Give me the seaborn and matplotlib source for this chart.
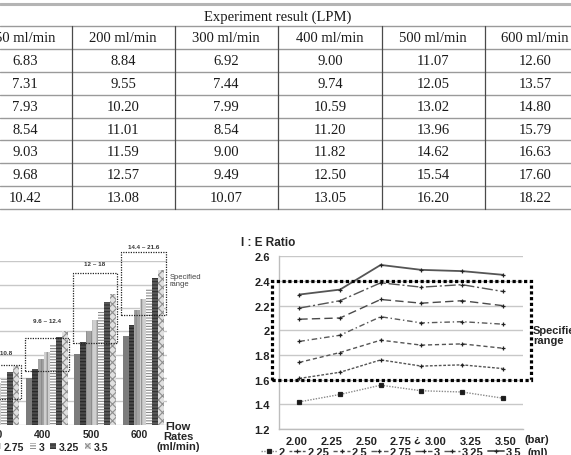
import numpy as np
import pandas as pd
import matplotlib.pyplot as plt
import seaborn as sns
from matplotlib.patches import Rectangle
from matplotlib.transforms import ScaledTranslation

sns.set_style('white')
plt.rcParams['font.family'] = ['Liberation Sans', 'DejaVu Sans']
plt.rcParams['hatch.linewidth'] = 0.8

# ================== data ==================
table_title = 'Experiment result (LPM)'
table_cols = ['50 ml/min', '200 ml/min', '300 ml/min', '400 ml/min', '500 ml/min', '600 ml/min']
col_50 = [6.83, 7.31, 7.93, 8.54, 9.03, 9.68, 10.42]
col_200 = [8.84, 9.55, 10.20, 11.01, 11.59, 12.57, 13.08]
col_300 = [6.92, 7.44, 7.99, 8.54, 9.00, 9.49, 10.07]
col_400 = [9.00, 9.74, 10.59, 11.20, 11.82, 12.50, 13.05]
col_500 = [11.07, 12.05, 13.02, 13.96, 14.62, 15.54, 16.20]
col_600 = [12.60, 13.57, 14.80, 15.79, 16.63, 17.60, 18.22]

volumes = ['2', '2.25', '2.5', '2.75', '3', '3.25', '3.5']  # ml
bar_flows = ['300', '400', '500', '600']
bar_values = [col_300, col_400, col_500, col_600]
spec_lo = [7.2, 9.6, 12.0, 14.4]
spec_hi = [10.1, 12.4, 18.0, 19.8]
spec_labels = ['7.2 ~ 10.8', '9.6 ~ 12.4', '12 ~ 18', '14.4 ~ 21.6']
spec_label_y = [11.2, 13.9, 18.8, 20.3]

pressure_labels = ['2.00', '2.25', '2.50', '2.75', '3.00', '3.25', '3.50']
ie_2 = [1.42, 1.48, 1.555, 1.51, 1.50, 1.45]
ie_225 = [1.61, 1.66, 1.76, 1.71, 1.72, 1.69]
ie_25 = [1.74, 1.82, 1.92, 1.88, 1.89, 1.855]
ie_275 = [1.91, 1.96, 2.11, 2.06, 2.07, 2.05]
ie_3 = [2.09, 2.10, 2.25, 2.22, 2.24, 2.20]
ie_325 = [2.18, 2.24, 2.385, 2.35, 2.37, 2.315]
ie_35 = [2.29, 2.33, 2.53, 2.49, 2.48, 2.45]
ie_series = [ie_2, ie_225, ie_25, ie_275, ie_3, ie_325, ie_35]

W, H = 571, 456
fig = plt.figure(figsize=(W / 100, H / 100), dpi=100)


def fx(x):
    return x / W


def fy(y):
    return 1 - y / H


# ================== table ==================
tab = fig.add_axes([0, 0, 1, 1], zorder=0)
tab.set_xlim(0, W)
tab.set_ylim(H, 0)
tab.axis('off')

col_x = [25, 123, 226, 330, 433, 535]
col_sep = [72, 175, 278, 382, 485]
row_top, row_h = 50, 22.86
serif = ['Liberation Serif', 'DejaVu Serif']

tab.axhline(5, color='#b4b4b4', lw=2.2)
tab.axhline(27, color='#9a9a9a', lw=1.0)
for k in range(8):
    tab.axhline(row_top + k * row_h, color='#9a9a9a', lw=1.0)
for xs in col_sep:
    tab.plot([xs, xs], [27, row_top + 7 * row_h], color='#4a4a4a', lw=0.9)

tab.text(278, 17, table_title, ha='center', va='center', fontsize=10.5,
         family=serif, color='#1a1a1a')
columns = [col_50, col_200, col_300, col_400, col_500, col_600]
for c, (name, vals) in enumerate(zip(table_cols, columns)):
    tab.text(col_x[c], 39, name, ha='center', va='center', fontsize=10.5,
             family=serif, color='#1a1a1a')
    for r, v in enumerate(vals):
        tab.text(col_x[c], row_top + (r + 0.5) * row_h, f'{v:.2f}', ha='center',
                 va='center', fontsize=10.5, family=serif, color='#1a1a1a')

# ================== bar chart (left, cropped) ==================
axb = fig.add_axes([fx(-25.7), fy(425.7), (167.5 + 25.7) / W, (425.7 - 262.3) / H])
bar_df = pd.DataFrame({
    'flow': np.repeat(bar_flows, len(volumes)),
    'vol': volumes * len(bar_flows),
    'lpm': np.concatenate(bar_values),
})
sns.barplot(data=bar_df, x='flow', y='lpm', hue='vol', order=bar_flows,
            hue_order=volumes, width=0.86, saturation=1, legend=False, ax=axb)

bar_face = ['#7c7c7c', '#4a4a4a', '#a4a4a4', '#cfcfcf', '#ffffff', '#5a5a5a', '#e0e0e0']
bar_hatch = ['', '-----', '|||', '|||', '------', '-----', 'xxxx']
bar_edge = ['#6e6e6e', '#262626', '#8a8a8a', '#8c8c8c', '#8a8a8a', '#303030', '#8e8e8e']
for cont, fc, ht, ec in zip(axb.containers, bar_face, bar_hatch, bar_edge):
    for p in cont.patches:
        p.set_facecolor(fc)
        p.set_hatch(ht)
        p.set_edgecolor(ec)
        p.set_linewidth(0)

axb.set_ylim(5, 19)
axb.set_yticks(range(5, 20, 2))
axb.yaxis.grid(True, color='#c8c8c8', lw=1.0)
axb.set_axisbelow(True)
sns.despine(ax=axb, left=True, bottom=True)
axb.set_xlabel('')
axb.set_ylabel('')
axb.tick_params(axis='y', left=False, labelleft=False)
axb.tick_params(axis='x', length=0, pad=3, labelsize=7.5)
for lbl in axb.get_xticklabels():
    lbl.set_fontweight('bold')
    lbl.set_transform(lbl.get_transform() + ScaledTranslation(-0.04, 0, fig.dpi_scale_trans))

for i in range(len(bar_flows)):
    axb.add_patch(Rectangle((i - 0.46, spec_lo[i]), 0.92, spec_hi[i] - spec_lo[i],
                            fill=False, ec='#222222', lw=0.9, ls=(0, (1, 1)),
                            clip_on=False, zorder=5))
    axb.text(i, spec_label_y[i], spec_labels[i], ha='center', va='center',
             fontsize=4.5, fontweight='bold', color='#333333')

axb.legend(handles=axb.containers, labels=volumes, loc='center right',
           bbox_to_anchor=(fx(108), fy(448)), bbox_transform=fig.transFigure,
           ncol=7, frameon=False, prop={'weight': 'bold', 'size': 7.5},
           handlelength=0.55, handleheight=0.55, handletextpad=0.25,
           columnspacing=0.6, borderpad=0, borderaxespad=0)

fig.text(fx(170), fy(281), 'Specified\nrange', ha='left', va='center', fontsize=5.5,
         color='#444444', linespacing=1.1)
fig.text(fx(178), fy(437), 'Flow\nRates\n(ml/min)', ha='center', va='center',
         fontsize=8, fontweight='bold', linespacing=0.95)

# ================== I:E ratio line chart (right) ==================
axl = fig.add_axes([fx(279), fy(430), (523 - 279) / W, (430 - 257.3) / H])
ie_df = pd.DataFrame({
    'pos': np.tile(np.arange(6), len(volumes)),
    'vol': np.repeat(volumes, 6),
    'ratio': np.concatenate(ie_series),
})
line_col = {'2': '#8a8a8a', '2.25': '#555555', '2.5': '#555555', '2.75': '#5a5a5a',
            '3': '#4a4a4a', '3.25': '#555555', '3.5': '#555555'}
line_dash = {'2': (1, 1), '2.25': (2, 1.2), '2.5': (3, 2), '2.75': (4, 2, 1, 2),
             '3': (6, 3), '3.25': (8, 2, 1.5, 2), '3.5': ''}
line_mark = ['s', '+', '+', '+', '+', '+', '+']
sns.lineplot(data=ie_df, x='pos', y='ratio', hue='vol', style='vol',
             hue_order=volumes, style_order=volumes, palette=line_col,
             dashes=line_dash, markers=False, errorbar=None, legend=False,
             lw=1.0, ax=axl)
for ln, mk in zip(axl.lines, line_mark):
    ln.set_marker(mk)
    ln.set_markersize(2.6 if mk == 's' else 3.2)
    ln.set_markeredgecolor('#222222')
    ln.set_markerfacecolor('#1a1a1a')
    ln.set_markeredgewidth(0.9)
axl.lines[6].set_linewidth(1.3)

axl.set_xlim(-0.5, 5.5)
axl.set_ylim(1.2, 2.6)
axl.set_yticks(np.arange(1.2, 2.61, 0.2))
axl.set_yticklabels(['1.2', '1.4', '1.6', '1.8', '2', '2.2', '2.4', '2.6'])
tick_pos = (np.arange(7) + 0.5) * 6 / 7 - 0.5
axl.set_xticks(tick_pos)
axl.set_xticklabels(pressure_labels)
axl.yaxis.grid(True, color='#c8c8c8', lw=1.0)
axl.set_axisbelow(True)
sns.despine(ax=axl, top=True, right=True)
for s in ['left', 'bottom']:
    axl.spines[s].set_color('#bdbdbd')
    axl.spines[s].set_linewidth(1.0)
axl.set_xlabel('')
axl.set_ylabel('')
axl.tick_params(axis='both', length=0, labelsize=8, labelcolor='#222222')
axl.tick_params(axis='y', pad=6.5)
axl.tick_params(axis='x', pad=5)
for lbl in axl.get_xticklabels() + axl.get_yticklabels():
    lbl.set_fontweight('bold')
axl.text(2.89, -0.058, '¿', transform=axl.get_xaxis_transform(), ha='center',
         va='center', fontsize=8, fontweight='bold', color='#222222')

axl.add_patch(Rectangle((-0.68, 1.6), 6.38, 0.8, fill=False, ec='black', lw=2.3,
                        ls=(0, (1, 0.8)), clip_on=False, zorder=6))
fig.text(fx(533), fy(336), 'Specified\nrange', ha='left', va='center', fontsize=8,
         fontweight='bold', linespacing=1.0)
fig.text(fx(241), fy(243), 'I : E Ratio', ha='left', va='center', fontsize=8.5,
         fontweight='bold')
fig.text(fx(537), fy(440), '(bar)', ha='center', va='center', fontsize=8,
         fontweight='bold', color='#222222')
fig.text(fx(538), fy(453), '(ml)', ha='center', va='center', fontsize=8,
         fontweight='bold', color='#222222')

axl.legend(handles=axl.lines[:7], labels=volumes, loc='center',
           bbox_to_anchor=(fx(391), fy(453)), bbox_transform=fig.transFigure,
           ncol=7, frameon=False, prop={'weight': 'bold', 'size': 8},
           handlelength=1.5, handletextpad=0.15, columnspacing=0.35,
           borderpad=0, borderaxespad=0)

fig.savefig('out.png', dpi=100)
